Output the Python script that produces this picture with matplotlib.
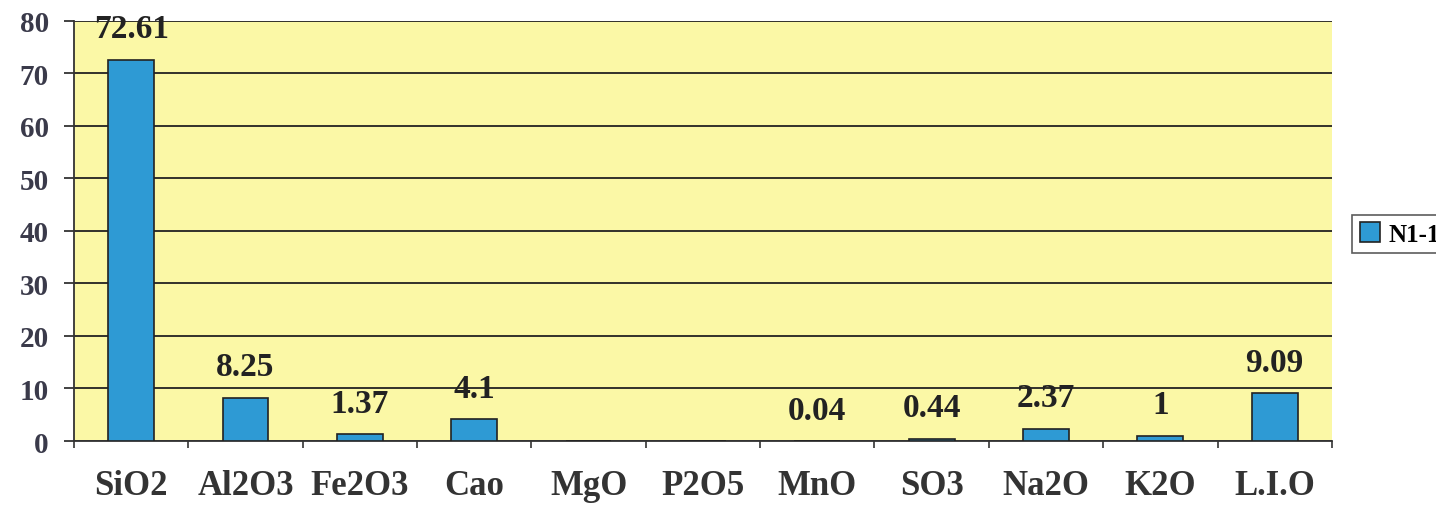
import matplotlib
matplotlib.use("Agg")
import matplotlib.pyplot as plt
import numpy as np

categories = ["SiO2", "Al2O3", "Fe2O3", "Cao", "MgO", "P2O5", "MnO", "SO3", "Na2O", "K2O", "L.I.O"]
values = [72.61, 8.25, 1.37, 4.1, 0, 0, 0.04, 0.44, 2.37, 1, 9.09]
labels = ["72.61", "8.25", "1.37", "4.1", "", "", "0.04", "0.44", "2.37", "1", "9.09"]
series_name = "N1-1"

plt.rcParams['font.family'] = ['Liberation Serif', 'DejaVu Serif']

fig = plt.figure(figsize=(14.36, 5.10), dpi=100)
ax = fig.add_axes([0.0515, 0.1333, 0.876, 0.824])
ax.set_facecolor('#FBF8A6')

x = np.arange(len(categories))
bars = ax.bar(x, values, width=0.4, color='#2E9AD4', edgecolor='#222222', linewidth=1.2,
              label=series_name, zorder=3)
for xi, v, lab in zip(x, values, labels):
    if lab:
        ax.annotate(lab, (xi, v), xytext=(0, 11), textcoords='offset points',
                    ha='center', va='bottom', fontsize=24, fontweight='bold', color='#222222',
                    zorder=4)

ax.set_xlim(-0.5, len(categories) - 0.5)
ax.set_ylim(0, 80)
ax.set_yticks(range(0, 81, 10))
ax.yaxis.grid(True, color='#222222', linewidth=1.3, zorder=1)
ax.set_axisbelow(True)
ax.set_xticks(x)
ax.set_xticklabels(categories, fontsize=25, fontweight='bold', color='#333333')
ax.set_xticks(np.arange(-0.5, len(categories)), minor=True)
ax.tick_params(axis='x', which='major', length=0, pad=20)
ax.tick_params(axis='x', which='minor', length=5, width=1.2, color='#333333')
ax.tick_params(axis='y', length=7, width=1.3, color='#333333', pad=11)
for t in ax.get_yticklabels():
    t.set_fontsize(21)
    t.set_fontweight('bold')
    t.set_color('#3A3A4A')
for s in ['left', 'bottom']:
    ax.spines[s].set_color('#333333')
    ax.spines[s].set_linewidth(1.3)
ax.spines['top'].set_visible(False)
ax.spines['right'].set_visible(False)

leg = fig.legend(loc='center left', bbox_to_anchor=(1352/1436, 1 - 235/510), frameon=True,
                 fancybox=False, edgecolor='#333333', borderaxespad=0,
                 prop={'weight': 'bold', 'size': 18}, handlelength=0.8, handleheight=0.8,
                 borderpad=0.3, handletextpad=0.35)
leg.get_frame().set_linewidth(1.2)

fig.savefig("out.png", dpi=100, facecolor='white')
